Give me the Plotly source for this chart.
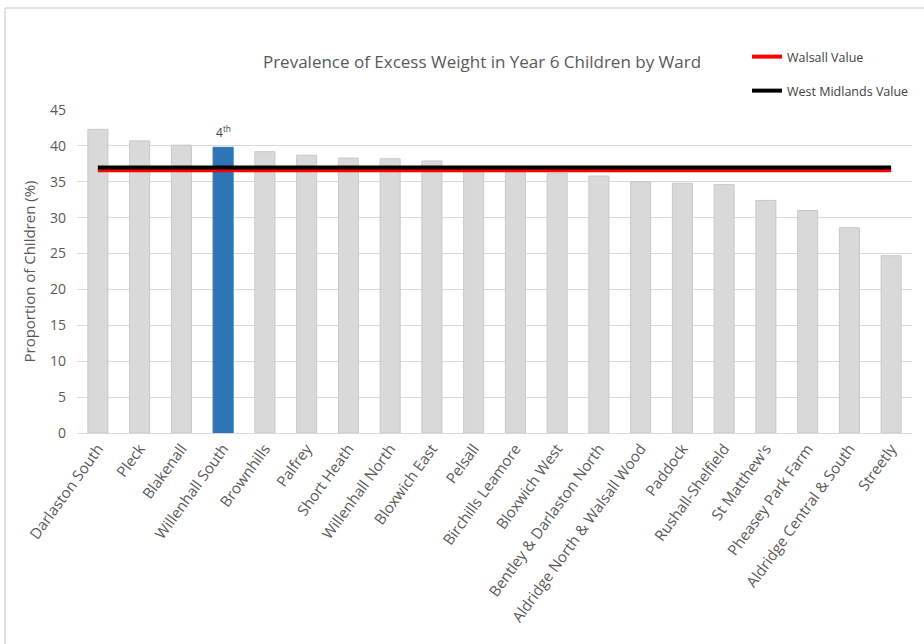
import plotly.graph_objects as go

wards = ["Darlaston South", "Pleck", "Blakenall", "Willenhall South", "Brownhills",
         "Palfrey", "Short Heath", "Willenhall North", "Bloxwich East", "Pelsall",
         "Birchills Leamore", "Bloxwich West", "Bentley & Darlaston North",
         "Aldridge North & Walsall Wood", "Paddock", "Rushall-Shelfield",
         "St Matthew's", "Pheasey Park Farm", "Aldridge Central & South", "Streetly"]
values = [42.3, 40.7, 40.1, 39.8, 39.2, 38.7, 38.3, 38.2, 37.9, 36.8,
          36.4, 36.2, 35.8, 35.0, 34.8, 34.6, 32.4, 31.0, 28.6, 24.7]
highlight_ward = "Willenhall South"
walsall_value = 36.6
west_midlands_value = 37.0

GREY = "#D9D9D9"
BLUE = "#2E75B6"
TEXT = "#595959"
FONT = "Open Sans"

bar_colors = [BLUE if w == highlight_ward else GREY for w in wards]
bar_lines = [BLUE if w == highlight_ward else "#C8C8C8" for w in wards]

fig = go.Figure()
fig.add_trace(go.Bar(x=wards, y=values, marker=dict(color=bar_colors, line=dict(color=bar_lines, width=1)),
                     showlegend=False, hoverinfo="x+y"))
fig.add_trace(go.Scatter(x=wards, y=[walsall_value] * len(wards), mode="lines",
                         line=dict(color="#FF0000", width=4), name="Walsall Value", legend="legend"))
fig.add_trace(go.Scatter(x=wards, y=[west_midlands_value] * len(wards), mode="lines",
                         line=dict(color="#000000", width=4), name="West Midlands Value", legend="legend2"))

hi_idx = wards.index(highlight_ward)
fig.add_annotation(x=wards[hi_idx], y=values[hi_idx], text="4<sup>th</sup>", showarrow=False,
                   yshift=15, font=dict(family=FONT, size=12, color="#404040"))

fig.update_layout(
    width=924, height=644,
    margin=dict(l=77, r=12, t=110, b=211, autoexpand=False),
    paper_bgcolor="white", plot_bgcolor="white",
    bargap=0.52,
    font=dict(family=FONT, color=TEXT),
    title=dict(text="Prevalence of Excess Weight in Year 6 Children by Ward",
               x=482 / 924, xanchor="center", y=1 - 62 / 644, yanchor="middle",
               font=dict(family=FONT, size=17, color=TEXT)),
    legend=dict(x=(747 - 77) / 835, xanchor="left", y=1 + (110 - 57) / 323, yanchor="middle",
                font=dict(family=FONT, size=12.5, color="#404040"), bgcolor="rgba(0,0,0,0)",
                itemwidth=30),
    legend2=dict(x=(747 - 77) / 835, xanchor="left", y=1 + (110 - 91) / 323, yanchor="middle",
                 font=dict(family=FONT, size=12.5, color="#404040"), bgcolor="rgba(0,0,0,0)",
                 itemwidth=30),
    xaxis=dict(tickangle=-54, tickfont=dict(family=FONT, size=15, color=TEXT),
               showline=True, linecolor=GREY, linewidth=1, ticks="", showgrid=False,
               automargin=False),
    yaxis=dict(range=[0, 45], dtick=5, showgrid=True, gridcolor=GREY, gridwidth=1,
               zeroline=True, zerolinecolor=GREY, zerolinewidth=1,
               tickfont=dict(family=FONT, size=14, color=TEXT), ticks="", ticklabelstandoff=10,
               automargin=False,
               title=dict(text="Proportion of Children (%)", font=dict(family=FONT, size=15, color=TEXT),
                          standoff=10)),
    shapes=[
        dict(type="line", xref="paper", yref="paper", x0=(5 - 77) / 835, x1=(924 - 77) / 835,
             y0=1 + (110 - 8) / 323, y1=1 + (110 - 8) / 323, line=dict(color="#D9D9D9", width=1.5)),
        dict(type="line", xref="paper", yref="paper", x0=(5 - 77) / 835, x1=(5 - 77) / 835,
             y0=1 + (110 - 8) / 323, y1=-(644 - 433) / 323, line=dict(color="#D9D9D9", width=1.5)),
    ],
)

fig.write_html("out.html", config={"displayModeBar": False},
               post_script="document.body.style.margin='0';")
